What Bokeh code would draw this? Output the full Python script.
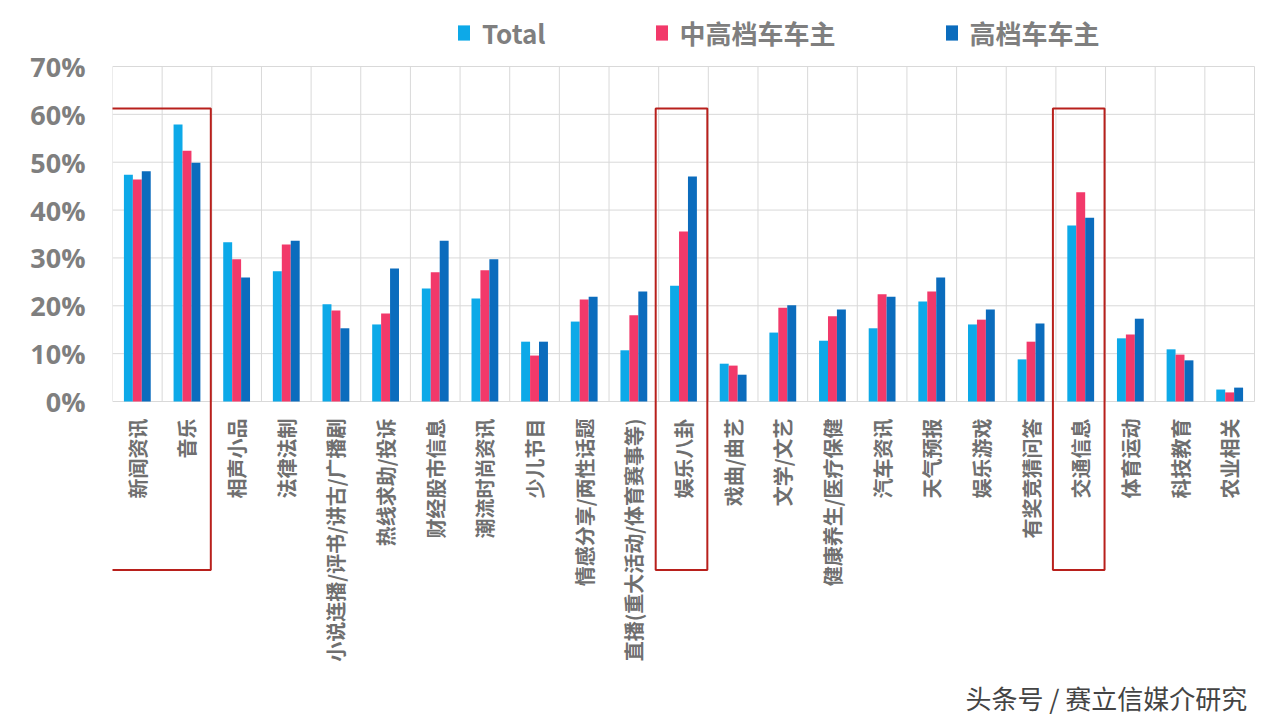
import numpy as np
from bokeh.plotting import figure
from bokeh.models import FixedTicker, Legend, LegendItem, Label
from bokeh.core.properties import value
from bokeh.embed import file_html
from bokeh.resources import INLINE

categories = ["新闻资讯", "音乐", "相声小品", "法律法制", "小说连播/评书/讲古/广播剧",
              "热线求助/投诉", "财经股市信息", "潮流时尚资讯", "少儿节目", "情感分享/两性话题",
              "直播(重大活动/体育赛事等)", "娱乐八卦", "戏曲/曲艺", "文学/文艺", "健康养生/医疗保健",
              "汽车资讯", "天气预报", "娱乐游戏", "有奖竞猜问答", "交通信息", "体育运动",
              "科技教育", "农业相关"]
total = [47.4, 57.9, 33.3, 27.2, 20.3, 16.1, 23.6, 21.5, 12.5, 16.7, 10.7, 24.2,
         7.9, 14.4, 12.7, 15.3, 20.9, 16.1, 8.8, 36.8, 13.2, 10.9, 2.5]
mid_high = [46.4, 52.4, 29.7, 32.8, 19.0, 18.4, 27.0, 27.4, 9.6, 21.3, 18.0, 35.5,
            7.5, 19.6, 17.8, 22.4, 23.0, 17.1, 12.5, 43.7, 14.0, 9.8, 1.9]
high = [48.1, 49.9, 25.9, 33.6, 15.3, 27.8, 33.6, 29.7, 12.5, 21.9, 23.0, 47.0,
        5.6, 20.1, 19.2, 21.9, 25.9, 19.2, 16.3, 38.4, 17.3, 8.6, 2.9]
series_names = ["Total", "中高档车车主", "高档车车主"]
y_ticks = [0, 10, 20, 30, 40, 50, 60, 70]
highlight_groups = [["新闻资讯", "音乐"], ["娱乐八卦"], ["交通信息"]]
footer_text = "头条号 / 赛立信媒介研究"

colors = ["#0DA9E8", "#F2396A", "#0B6CBD"]
GRID = "#D9D9D9"
TXT = "#7F7F7F"

n = len(categories)
idx = np.arange(n)
bw = 0.18

# layout geometry (pixels)
W, H = 1280, 720
LEFT = 112            # frame left edge
PLOT_RIGHT = 1254     # right end of the chart area
Y0_PX, Y70_PX = 401, 66
px_per_cat = (PLOT_RIGHT - LEFT) / n
px_per_pct = (Y0_PX - Y70_PX) / 70.0
x_start = -0.5
x_end = x_start + (W - LEFT) / px_per_cat
y_end = 70 + Y70_PX / px_per_pct
y_start = -(H - Y0_PX) / px_per_pct

p = figure(width=W, height=H, output_backend="svg", toolbar_location=None,
           x_range=(x_start, x_end), y_range=(y_start, y_end),
           min_border_left=LEFT, min_border_right=0, min_border_top=0, min_border_bottom=0)
p.outline_line_color = None
p.background_fill_color = "white"
p.border_fill_color = "white"
p.xaxis.visible = False
p.xgrid.visible = False
p.ygrid.visible = False

# grid lines (horizontal at y ticks, vertical at category boundaries)
bounds = [i - 0.5 for i in range(n + 1)]
p.segment(x0=[-0.5] * len(y_ticks), x1=[n - 0.5] * len(y_ticks), y0=y_ticks, y1=y_ticks,
          line_color=GRID, line_width=1)
p.segment(x0=bounds, x1=bounds, y0=[0] * len(bounds), y1=[70] * len(bounds),
          line_color=GRID, line_width=1)

renderers = []
for k, (vals, col) in enumerate(zip([total, mid_high, high], colors)):
    r = p.vbar(x=idx + (k - 1) * bw, top=vals, width=bw, bottom=0,
               fill_color=col, line_color=None)
    renderers.append(r)

# y axis
ya = p.yaxis[0]
ya.ticker = FixedTicker(ticks=y_ticks)
ya.major_label_overrides = {v: f"{v}%" for v in y_ticks}
ya.major_label_text_font = "Open Sans"
ya.major_label_text_font_style = "bold"
ya.major_label_text_font_size = "27px"
ya.major_label_text_color = TXT
ya.major_label_standoff = 27
ya.major_tick_line_color = None
ya.minor_tick_line_color = None
ya.major_tick_out = 0
ya.major_tick_in = 0
ya.axis_line_color = None

# category labels (vertical, reading bottom-to-top, ending just under the zero line)
label_y = -17 / px_per_pct
p.text(x=idx, y=[label_y] * n, text=categories, angle=np.pi / 2,
       text_align="right", text_baseline="middle",
       text_font=value("Noto Sans CJK SC"), text_font_style="bold",
       text_font_size="20px", text_color="#6F6F6F")

# highlight boxes
hl_left, hl_right = [], []
for grp in highlight_groups:
    ii = [categories.index(g) for g in grp]
    hl_left.append(min(ii) - 0.56)
    hl_right.append(max(ii) + 0.48)
p.quad(left=hl_left, right=hl_right, top=[61.2] * len(hl_left), bottom=[-35.2] * len(hl_left),
       fill_color=None, line_color="#B8201C", line_width=2)

# legend
legend = Legend(items=[LegendItem(label=s, renderers=[r]) for s, r in zip(series_names, renderers)],
                orientation="horizontal", location=(456 - LEFT, H - 51),
                padding=0, margin=0, spacing=108, label_standoff=11,
                glyph_width=15, glyph_height=19,
                border_line_color=None, background_fill_alpha=0,
                label_text_font="Noto Sans CJK SC", label_text_font_style="bold",
                label_text_font_size="26px", label_text_color=TXT)
p.add_layout(legend, "center")

footer = Label(x=x_start + (965 - LEFT) / px_per_cat, y=-(697 - Y0_PX) / px_per_pct,
               text=footer_text, text_font="Noto Sans CJK SC", text_font_size="26px",
               text_color="#444444", text_baseline="middle")
p.add_layout(footer)

open("out.html", "w").write(file_html(p, INLINE))
